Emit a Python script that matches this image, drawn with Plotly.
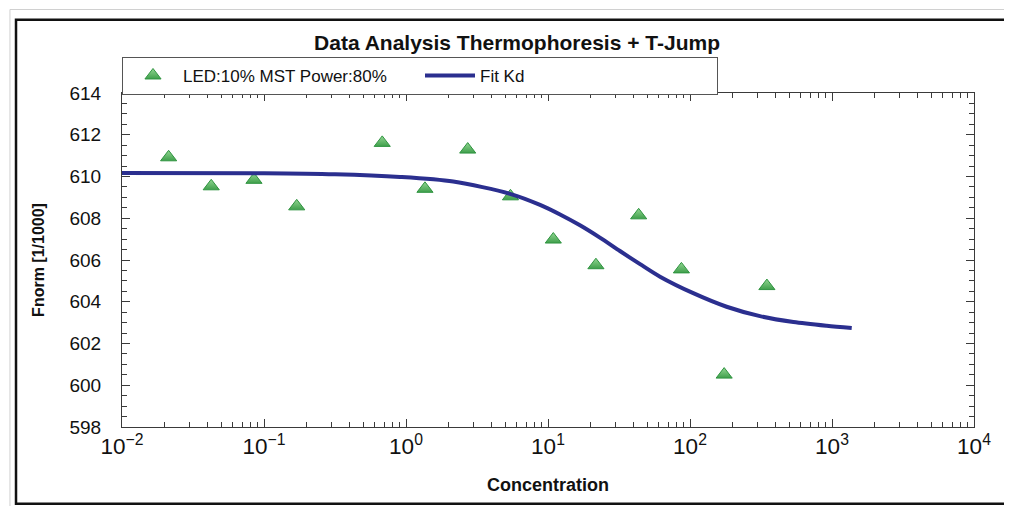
import plotly.graph_objects as go

# Measured points (concentration, Fnorm)
concentration = [0.0213, 0.0425, 0.085, 0.17, 0.68, 1.36, 2.72, 5.44,
                 10.9, 21.75, 43.5, 87, 174, 348]
fnorm = [610.92, 609.53, 609.84, 608.57, 611.61, 609.41, 611.29, 609.05,
         606.98, 605.75, 608.14, 605.55, 600.51, 604.75]

# Fit curve
fit_conc = [0.01, 0.1, 0.316, 0.908, 2.15, 5.4, 8.79, 12.16, 16.8, 23.2,
            32.1, 44.5, 61.5, 105.4, 181, 311, 535, 918, 1377]
fit_fnorm = [610.17, 610.16, 610.11, 609.98, 609.76, 609.17, 608.64, 608.18,
             607.66, 607.07, 606.43, 605.80, 605.20, 604.41, 603.76, 603.31,
             603.03, 602.85, 602.74]

# Tick labels for the decades shown without exponent by default
x_label_alias = {"1": "10<sup>0</sup>", "10": "10<sup>1</sup>"}

series_name = "LED:10% MST Power:80%"
fit_name = "Fit Kd"
title_text = "Data Analysis Thermophoresis + T-Jump"
x_title = "Concentration"
y_title = "Fnorm [1/1000]"

FONT = "Arial, Liberation Sans, sans-serif"
AX = "#3a3a3a"

fig = go.Figure()
fig.add_trace(go.Scatter(
    x=concentration, y=fnorm, mode="markers", name=series_name,
    marker=dict(symbol="triangle-up", size=14, color="#92d692",
                gradient=dict(type="vertical", color="#3f9f4b"),
                line=dict(color="#2f9440", width=1)),
))
fig.add_trace(go.Scatter(
    x=fit_conc, y=fit_fnorm, mode="lines", name=fit_name,
    line=dict(color="#2b2f8f", width=4, shape="spline", smoothing=0.8),
))

fig.update_layout(
    width=1004, height=498,
    margin=dict(l=114, r=38, t=85, b=79),
    paper_bgcolor="white", plot_bgcolor="white",
    font=dict(family=FONT, color="#111", size=17),
    title=dict(text="<b>" + title_text + "</b>", x=0.507, xref="container",
               xanchor="center", y=0.93, yref="container", yanchor="middle",
               font=dict(size=21, family=FONT, color="#111")),
    legend=dict(orientation="h", x=0.0, xanchor="left", y=1.108, yanchor="top",
                bordercolor="#555", borderwidth=1, bgcolor="white",
                itemwidth=50, entrywidth=232, entrywidthmode="pixels",
                font=dict(size=17, family=FONT), itemclick=False),
    xaxis=dict(type="log", range=[-2, 4], dtick=1, exponentformat="power",
               labelalias=x_label_alias,
               showgrid=False, zeroline=False, showline=True, linecolor=AX,
               linewidth=1, mirror="ticks", ticks="inside", ticklen=8,
               tickcolor=AX, tickfont=dict(size=18, family=FONT),
               minor=dict(ticks="inside", ticklen=5, tickcolor=AX, showgrid=False),
               title=dict(text="<b>" + x_title + "</b>", standoff=20,
                          font=dict(size=18, family=FONT))),
    yaxis=dict(range=[598, 614], dtick=2, showgrid=False, zeroline=False,
               showline=True, linecolor=AX, linewidth=1, mirror="ticks",
               ticks="inside", ticklen=8, tickcolor=AX,
               tickfont=dict(size=19, family=FONT), ticklabelstandoff=16,
               minor=dict(ticks="inside", ticklen=5, dtick=0.5, tickcolor=AX,
                          showgrid=False),
               title=dict(text="<b>" + y_title + "</b>", standoff=20,
                          font=dict(size=16, family=FONT))),
    xaxis2=dict(type="log", range=[-2, 4], dtick=1, overlaying="x", anchor="y",
                side="bottom", showgrid=False, zeroline=False, showline=False,
                ticks="outside", ticklen=8, tickcolor=AX, showticklabels=False,
                minor=dict(ticks="outside", ticklen=5, tickcolor=AX, showgrid=False)),
    yaxis2=dict(range=[598, 614], dtick=2, overlaying="y", anchor="x",
                side="left", showgrid=False, zeroline=False, showline=False,
                ticks="outside", ticklen=8, tickcolor=AX, showticklabels=False,
                minor=dict(ticks="outside", ticklen=5, dtick=0.5, tickcolor=AX,
                           showgrid=False)),
)

# window frame decorations
fig.add_shape(type="rect", xref="paper", yref="paper",
              x0=-0.1315, x1=1.06, y0=-0.25, y1=1.25,
              line=dict(color="#d0d0d0", width=1), layer="below")
fig.add_shape(type="rect", xref="paper", yref="paper",
              x0=-0.1244, x1=1.06, y0=-0.2296, y1=1.2195,
              line=dict(color="#111", width=2.5), layer="below")

fig.write_html("out.html")
